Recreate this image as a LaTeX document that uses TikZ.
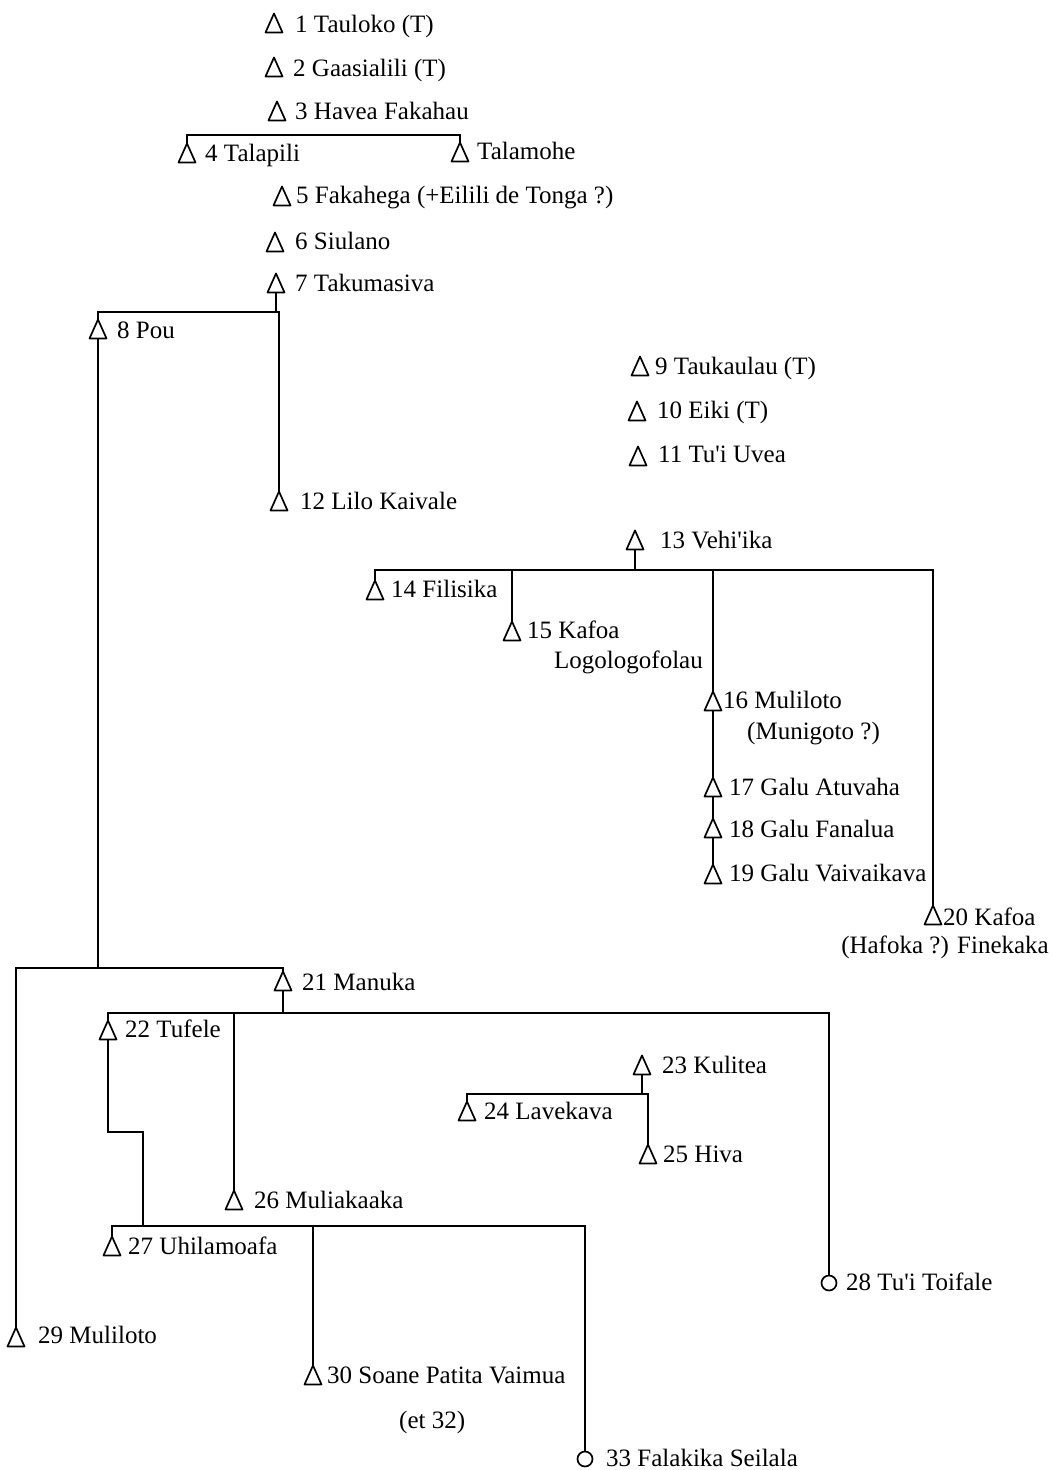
\documentclass[tikz,border=0pt]{standalone}
\usepackage{fontspec}
\setmainfont{Liberation Serif}
\begin{document}
\begin{tikzpicture}[x=1pt,y=-1pt,
  lbl/.style={anchor=base west,inner sep=0pt,font=\fontsize{25}{30}\selectfont},
  tri/.style={minimum width=17pt,minimum height=19pt,inner sep=0pt,outer sep=0pt},
  fem/.style={circle,draw,line width=1.7pt,minimum size=15pt,inner sep=0pt,outer sep=0pt},
  link/.style={line width=1.1pt},
  symline/.style={line width=1.7pt,line join=round}]
\useasboundingbox (0,0) rectangle (1052,1470);
% ---- symbols ----
\node[tri] (t1) at (274,23) {};
\node[tri] (t2) at (274,67) {};
\node[tri] (t3) at (277,111) {};
\node[tri] (t4) at (187,153) {};
\node[tri] (tT) at (460,152) {};
\node[tri] (t5) at (282,196) {};
\node[tri] (t6) at (275,242) {};
\node[tri] (t7) at (276,283) {};
\node[tri] (t8) at (98,329) {};
\node[tri] (t9) at (640,366) {};
\node[tri] (t10) at (637,411) {};
\node[tri] (t11) at (638,456) {};
\node[tri] (t12) at (279,501) {};
\node[tri] (t13) at (635,540) {};
\node[tri] (t14) at (375,590) {};
\node[tri] (t15) at (512,631) {};
\node[tri] (t16) at (713,701) {};
\node[tri] (t17) at (713,787) {};
\node[tri] (t18) at (713,828) {};
\node[tri] (t19) at (713,874) {};
\node[tri] (t20) at (933,915) {};
\node[tri] (t21) at (283,981) {};
\node[tri] (t22) at (108,1030) {};
\node[tri] (t23) at (642,1065) {};
\node[tri] (t24) at (467,1111) {};
\node[tri] (t25) at (648,1154) {};
\node[tri] (t26) at (234,1200) {};
\node[tri] (t27) at (112,1246) {};
\node[fem] (c28) at (829,1283) {};
\node[tri] (t29) at (16,1337) {};
\node[tri] (t30) at (313,1375) {};
\node[fem] (c33) at (585,1459) {};
\foreach \n in {t1,t2,t3,t4,tT,t5,t6,t7,t8,t9,t10,t11,t12,t13,t14,t15,t16,t17,t18,t19,t20,t21,t22,t23,t24,t25,t26,t27,t29,t30}
  \draw[symline] (\n.south west) -- (\n.north) -- (\n.south east) -- cycle;
% ---- labels ----
\node[lbl] (l1) at (295,32) {1 Tauloko (T)};
\node[lbl] (l2) at (293,76) {2 Gaasialili (T)};
\node[lbl] (l3) at (295,119) {3 Havea Fakahau};
\node[lbl] (l4) at (205,161) {4 Talapili};
\node[lbl] (lT) at (477,159) {Talamohe};
\node[lbl] (l5) at (296,203) {5 Fakahega (+Eilili de Tonga ?)};
\node[lbl] (l6) at (295,249) {6 Siulano};
\node[lbl] (l7) at (295,291) {7 Takumasiva};
\node[lbl] (l8) at (117,338) {8 Pou};
\node[lbl] (l9) at (655,374) {9 Taukaulau (T)};
\node[lbl] (l10) at (657,418) {10 Eiki (T)};
\node[lbl] (l11) at (658,462) {11 Tu\textquotesingle i Uvea};
\node[lbl] (l12) at (300,509) {12 Lilo Kaivale};
\node[lbl] (l13) at (660,548) {13 Vehi\textquotesingle ika};
\node[lbl] (l14) at (391,597) {14 Filisika};
\node[lbl] (l15) at (527,638) {15 Kafoa};
\node[lbl,anchor=base east] (l15b) at (703,668) {Logologofolau};
\node[lbl] (l16) at (723,708) {16 Muliloto};
\node[lbl] (l16b) at (747,739) {(Munigoto ?)};
\node[lbl] (l17) at (729,795) {17 Galu Atuvaha};
\node[lbl] (l18) at (729,837) {18 Galu Fanalua};
\node[lbl] (l19) at (729,881) {19 Galu Vaivaikava};
\node[lbl] (l20) at (943,925) {20 Kafoa};
\node[lbl,anchor=base east] (l20b) at (1049,953) {(Hafoka ?) Finekaka};
\node[lbl] (l21) at (302,990) {21 Manuka};
\node[lbl] (l22) at (125,1037) {22 Tufele};
\node[lbl] (l23) at (662,1073) {23 Kulitea};
\node[lbl] (l24) at (484,1119) {24 Lavekava};
\node[lbl] (l25) at (663,1162) {25 Hiva};
\node[lbl] (l26) at (254,1208) {26 Muliakaaka};
\node[lbl] (l27) at (128,1254) {27 Uhilamoafa};
\node[lbl] (l28) at (846,1290) {28 Tu\textquotesingle i Toifale};
\node[lbl] (l29) at (38,1343) {29 Muliloto};
\node[lbl] (l30) at (327,1383) {30 Soane Patita Vaimua};
\node[lbl] (l30b) at (399,1428) {(et 32)};
\node[lbl] (l33) at (606,1466) {33 Falakika Seilala};
% ---- junction levels ----
\coordinate (j3) at (0,135);
\coordinate (j7) at (0,312);
\coordinate (j8) at (0,968);
\coordinate (j13) at (0,570);
\coordinate (j21) at (0,1013);
\coordinate (j22a) at (0,1132);
\coordinate (j22x) at (143,0);
\coordinate (j27) at (0,1226);
\coordinate (j23) at (0,1094);
% ---- connectors ----
\draw[link] (t4.north) -- (t4.north |- j3) -- (tT.north |- j3) -- (tT.north);
\draw[link] (t7.south) -- (t7.south |- j7);
\draw[link] (t8.north) -- (t8.north |- j7) -- (t12.north |- j7) -- (t12.north);
\draw[link] (t8.south) -- (t8.south |- j8);
\draw[link] (t29.north) -- (t29.north |- j8) -- (t21.north |- j8) -- (t21.north);
\draw[link] (t13.south) -- (t13.south |- j13);
\draw[link] (t14.north) -- (t14.north |- j13) -- (t20.north |- j13) -- (t20.north);
\draw[link] (t15.north) -- (t15.north |- j13);
\draw[link] (t16.north) -- (t16.north |- j13);
\draw[link] (t16.south) -- (t17.north);
\draw[link] (t17.south) -- (t18.north);
\draw[link] (t18.south) -- (t19.north);
\draw[link] (t21.south) -- (t21.south |- j21);
\draw[link] (t22.north) -- (t22.north |- j21) -- (c28.north |- j21) -- (c28.north);
\draw[link] (t26.north) -- (t26.north |- j21);
\draw[link] (t22.south) -- (t22.south |- j22a) -- (j22x |- j22a) -- (j22x |- j27);
\draw[link] (t27.north) -- (t27.north |- j27) -- (c33.north |- j27) -- (c33.north);
\draw[link] (t30.north) -- (t30.north |- j27);
\draw[link] (t23.south) -- (t23.south |- j23);
\draw[link] (t24.north) -- (t24.north |- j23) -- (t25.north |- j23) -- (t25.north);
\end{tikzpicture}
\end{document}
